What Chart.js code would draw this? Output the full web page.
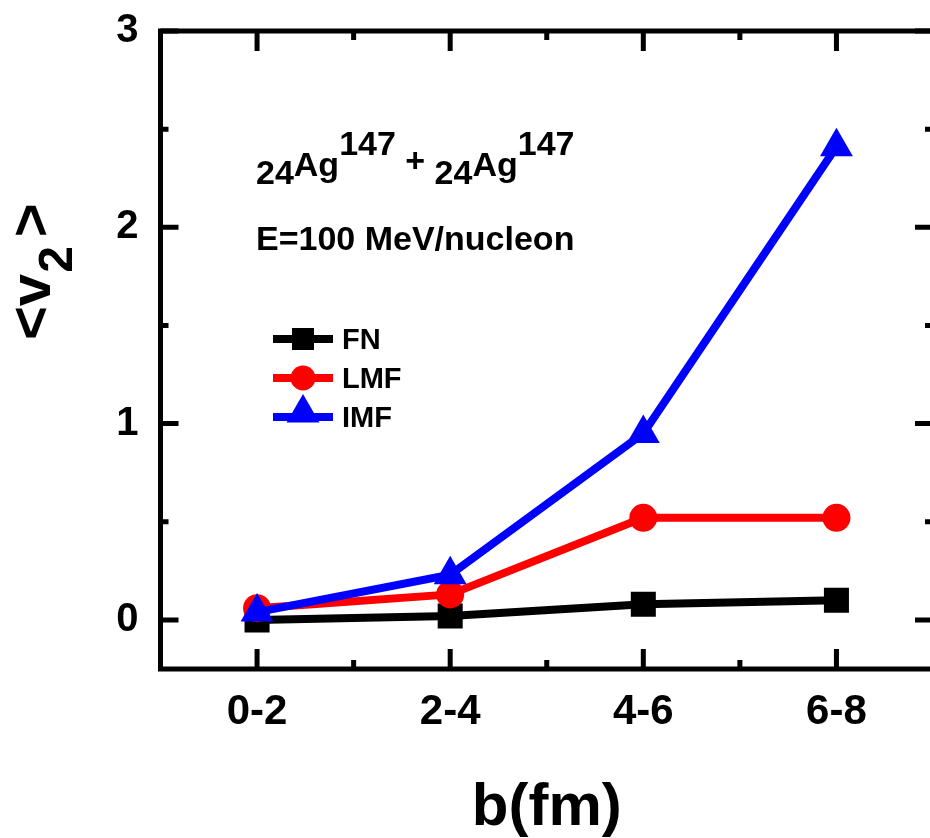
<!DOCTYPE html>
<html>
<head>
<meta charset="utf-8">
<title>v2 vs b</title>
<script src="https://cdn.jsdelivr.net/npm/chart.js@4.4.1/dist/chart.umd.min.js"></script>
<style>
    body{
        margin:0;
        background:#ffffff;
    }
    #caja{
        width:930px;
        height:838px;
        overflow:hidden;
    }
</style>
</head>
<body>

<div id="caja">
    <canvas id="graficoV2" width="952" height="838"></canvas>
</div>

<script>

// Datos

const categorias = ["0-2", "2-4", "4-6", "6-8"];

const valoresFN = [0.00, 0.02, 0.08, 0.10];

const valoresLMF = [0.06, 0.13, 0.52, 0.52];

const valoresIMF = [0.04, 0.23, 0.95, 2.41];

const ticksY = [0, 0.5, 1, 1.5, 2, 2.5, 3];

const fuente = '"Liberation Sans", Arial, sans-serif';

Chart.defaults.font.family = fuente;
Chart.defaults.color = "#000000";


// Escribe un trozo de texto y devuelve donde termina

function escribir(ctx, str, x, y, size){

    ctx.font = "bold " + size + "px " + fuente;
    ctx.fillText(str, x, y);

    return x + ctx.measureText(str).width;

}


// Marco con marcas hacia adentro en los cuatro lados

const marco = {

    id:"marco",

    afterDraw(chart){

        const ctx = chart.ctx;
        const a = chart.chartArea;
        const x = chart.scales.x;
        const y = chart.scales.y;

        ctx.save();

        ctx.strokeStyle = "#000000";
        ctx.lineWidth = 5;
        ctx.strokeRect(a.left, a.top, a.right - a.left, a.bottom - a.top);

        ctx.beginPath();

        ticksY.forEach(function(v){

            const py = y.getPixelForValue(v);
            const largo = Number.isInteger(v) ? 18 : 8;

            ctx.moveTo(a.left, py);
            ctx.lineTo(a.left + largo, py);
            ctx.moveTo(a.right, py);
            ctx.lineTo(a.right - largo, py);

        });

        categorias.forEach(function(c, i){

            const px = x.getPixelForValue(i);

            ctx.moveTo(px, a.bottom);
            ctx.lineTo(px, a.bottom - 20);
            ctx.moveTo(px, a.top);
            ctx.lineTo(px, a.top + 20);

            if(i < categorias.length - 1){

                const pm = (px + x.getPixelForValue(i + 1)) / 2;

                ctx.moveTo(pm, a.bottom);
                ctx.lineTo(pm, a.bottom - 9);
                ctx.moveTo(pm, a.top);
                ctx.lineTo(pm, a.top + 9);

            }

        });

        ctx.stroke();
        ctx.restore();

    }

};


// Textos: titulo del eje Y, reaccion, energia y leyenda

const textos = {

    id:"textos",

    afterDraw(chart){

        const ctx = chart.ctx;

        ctx.save();
        ctx.fillStyle = "#000000";
        ctx.textAlign = "left";
        ctx.textBaseline = "alphabetic";

        // <v2> girado

        ctx.save();
        ctx.translate(50, 340);
        ctx.rotate(-Math.PI / 2);

        let p = escribir(ctx, "<v", 0, 0, 58);
        p = escribir(ctx, "2", p + 1, 22, 48);
        escribir(ctx, ">", p + 9, 0, 58);

        ctx.restore();

        // Reaccion

        let px = 256;

        px = escribir(ctx, "24", px, 184, 34);
        px = escribir(ctx, "Ag", px, 176, 34);
        px = escribir(ctx, "147", px, 155, 34);
        px = escribir(ctx, " + ", px, 172, 34);
        px = escribir(ctx, "24", px, 184, 34);
        px = escribir(ctx, "Ag", px, 176, 34);
        escribir(ctx, "147", px, 155, 34);

        escribir(ctx, "E=100 MeV/nucleon", 256, 250, 34);

        // Leyenda

        const filas = [339, 378, 417];
        const radios = [15.6, 12.5, 19];

        chart.data.datasets.forEach(function(ds, i){

            const fy = filas[i];

            ctx.strokeStyle = ds.borderColor;
            ctx.lineWidth = 8;
            ctx.beginPath();
            ctx.moveTo(273, fy);
            ctx.lineTo(333, fy);
            ctx.stroke();

            ctx.fillStyle = ds.pointBackgroundColor;

            Chart.helpers.drawPoint(ctx, {
                pointStyle:ds.pointStyle,
                radius:radios[i],
                rotation:0,
                borderWidth:0
            }, 303, i === 2 ? fy - 4 : fy);

            ctx.fillStyle = "#000000";
            escribir(ctx, ds.label, 342, fy + 10, 29);

        });

        ctx.restore();

    }

};


// Crear grafico

const ctx = document.getElementById("graficoV2");

new Chart(ctx,{

    type:"line",

    data:{

        labels:categorias,

        datasets:[

            {
                label:"FN",
                data:valoresFN,
                borderColor:"#000000",
                backgroundColor:"#000000",
                pointBackgroundColor:"#000000",
                pointStyle:"rect",
                pointRadius:17.7,
                pointBorderWidth:0,
                borderWidth:8,
                order:2
            },

            {
                label:"LMF",
                data:valoresLMF,
                borderColor:"#ff0000",
                backgroundColor:"#ff0000",
                pointBackgroundColor:"#ff0000",
                pointStyle:"circle",
                pointRadius:14,
                pointBorderWidth:0,
                borderWidth:8,
                order:1
            },

            {
                label:"IMF",
                data:valoresIMF,
                borderColor:"#0000ff",
                backgroundColor:"#0000ff",
                pointBackgroundColor:"#0000ff",
                pointStyle:"triangle",
                pointRadius:19,
                pointBorderWidth:0,
                borderWidth:8,
                order:0
            }

        ]

    },

    options:{

        responsive:false,

        animation:false,

        layout:{
            padding:{
                top:31,
                right:6.5,
                left:0,
                bottom:0
            }
        },

        plugins:{

            legend:{
                display:false
            },

            tooltip:{
                enabled:false
            }

        },

        elements:{
            line:{
                tension:0
            }
        },

        scales:{

            x:{

                type:"category",

                offset:true,

                grid:{
                    display:false,
                    drawTicks:false
                },

                border:{
                    display:false
                },

                ticks:{
                    font:{
                        size:42,
                        weight:"bold"
                    },
                    padding:18,
                    maxRotation:0
                },

                title:{
                    display:true,
                    text:"b(fm)",
                    font:{
                        size:60,
                        weight:"bold",
                        lineHeight:1
                    },
                    padding:0
                },

                afterFit:function(scale){
                    scale.height = 169;
                    scale.paddingLeft = 0;
                    scale.paddingRight = 0;
                }

            },

            y:{

                min:-0.25,

                max:3,

                grid:{
                    display:false,
                    drawTicks:false
                },

                border:{
                    display:false
                },

                ticks:{
                    font:{
                        size:40,
                        weight:"bold"
                    },
                    padding:22,
                    callback:function(v){
                        return Number.isInteger(v) ? String(v) : "";
                    }
                },

                afterBuildTicks:function(scale){
                    scale.ticks = ticksY.map(function(v){
                        return {value:v};
                    });
                },

                afterFit:function(scale){
                    scale.width = 160.5;
                    scale.paddingTop = 0;
                    scale.paddingBottom = 0;
                }

            }

        }

    },

    plugins:[marco, textos]

});

</script>
</body>
</html>
